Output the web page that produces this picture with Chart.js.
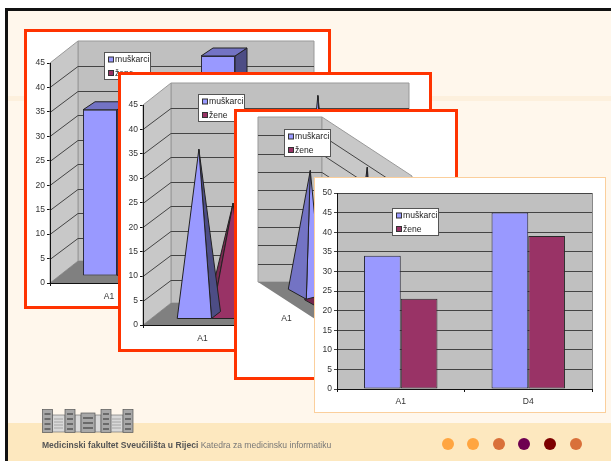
<!DOCTYPE html>
<html>
<head>
<meta charset="utf-8">
<script src="https://cdn.jsdelivr.net/npm/chart.js@4"></script>
<style>
  html, body { margin: 0; padding: 0; background: #fff; }
  body { width: 611px; height: 461px; overflow: hidden; position: relative; font-family: "Liberation Sans", Arial, sans-serif; }
  #slide { position: absolute; left: 5px; top: 8px; width: 606px; height: 453px; background: #fff7ec; border-left: 3px solid #111; border-top: 3px solid #111; box-sizing: border-box; }
  #stripe { position: absolute; left: 0; top: 85px; width: 100%; height: 5px; background: #fdf0dd; }
  #band { position: absolute; left: 0; top: 412px; width: 100%; height: 38px; background: #fde8bf; }
  .box { position: absolute; background: #fff; box-sizing: border-box; }
  .red { border: 3px solid #ff3300; }
  .box canvas { display: block; filter: blur(0.35px); }
  #logo { position: absolute; left: 42px; top: 409px; filter: blur(0.4px); }
  #foot { position: absolute; left: 42px; top: 440px; font-size: 8.55px; color: #777; white-space: nowrap; filter: blur(0.25px); }
  #foot b { color: #555; }
  .dot { position: absolute; top: 438px; width: 12px; height: 12px; border-radius: 50%; }
</style>
</head>
<body>
<div id="slide"><div id="stripe"></div><div id="band"></div></div>

<div class="box red" style="left:24px;top:29px;width:307px;height:280px"><canvas id="c1" width="301" height="274"></canvas></div>
<div class="box red" style="left:118px;top:72px;width:314px;height:280px"><canvas id="c2" width="308" height="274"></canvas></div>
<div class="box red" style="left:234px;top:109px;width:224px;height:271px"><canvas id="c3" width="218" height="265"></canvas></div>
<div class="box" style="left:314px;top:177px;width:292px;height:236px;border:1px solid #fbcf9c"><canvas id="c4" width="290" height="234"></canvas></div>

<svg id="logo" width="94" height="25" viewBox="0 0 94 25">
  <g fill="#d8d8d8" stroke="#777" stroke-width="0.7">
    <rect x="10" y="6" width="13" height="17"/><rect x="33" y="6" width="6" height="17"/>
    <rect x="53" y="6" width="6" height="17"/><rect x="68" y="6" width="13" height="17"/>
  </g>
  <g fill="#a8a8a8" stroke="#555" stroke-width="0.7">
    <rect x="0.5" y="0.5" width="10" height="23"/><rect x="23" y="0.5" width="10" height="23"/>
    <rect x="39" y="4" width="14" height="19.5"/><rect x="59" y="0.5" width="10" height="23"/>
    <rect x="81" y="0.5" width="10" height="23"/>
  </g>
  <g stroke="#555" stroke-width="1.4">
    <path d="M2.5 5h6M2.5 10h6M2.5 15h6M2.5 20h6M25 5h6M25 10h6M25 15h6M25 20h6M61 5h6M61 10h6M61 15h6M61 20h6M83 5h6M83 10h6M83 15h6M83 20h6M41 9h10M41 14h10M41 19h10"/>
  </g>
  <g stroke="#999" stroke-width="0.8">
    <path d="M12 10h9M12 13h9M12 16h9M12 19h9M70 10h9M70 13h9M70 16h9M70 19h9"/>
  </g>
</svg>
<div id="foot"><b>Medicinski fakultet Sveučilišta u Rijeci</b> Katedra za medicinsku informatiku</div>
<div class="dot" style="left:442px;background:#ffa540"></div>
<div class="dot" style="left:467px;background:#ffa540"></div>
<div class="dot" style="left:493px;background:#d9703a"></div>
<div class="dot" style="left:518px;background:#6e0050"></div>
<div class="dot" style="left:544px;background:#7d0000"></div>
<div class="dot" style="left:570px;background:#d9703a"></div>

<script>
// values
const categories = ['A1', 'D4'];
const seriesNames = ['muškarci', 'žene'];
const muskarci = [34, 45];
const zene = [23, 39];
const ticks3d = [0, 5, 10, 15, 20, 25, 30, 35, 40, 45];
const ticksFlat = [0, 5, 10, 15, 20, 25, 30, 35, 40, 45, 50];

const FONT = '"Liberation Sans", Arial, sans-serif';
const BLUE = '#9999ff', PURPLE = '#993366';

function makeData(fill) {
    return {
        labels: categories,
        datasets: [
            { label: seriesNames[0], data: muskarci, backgroundColor: fill ? BLUE : 'transparent', swatch: BLUE,
              borderColor: fill ? '#2a2a3a' : 'transparent', borderWidth: 1, borderSkipped: false,
              side: '#4d4d85', topFace: '#7373c4', categoryPercentage: 0.576, barPercentage: 1 },
            { label: seriesNames[1], data: zene, backgroundColor: fill ? PURPLE : 'transparent', swatch: PURPLE,
              borderColor: fill ? '#2a2a2a' : 'transparent', borderWidth: 1, borderSkipped: false,
              side: '#7a2a52', topFace: '#73264d', categoryPercentage: 0.576, barPercentage: 1 }
        ]
    };
}

// legend box, drawn over the plot
function legendBox(x, y) {
    return {
        id: 'legendBox',
        afterDatasetsDraw(chart) {
            const c = chart.ctx;
            c.save();
            c.fillStyle = '#fff';
            c.strokeStyle = '#555';
            c.lineWidth = 1;
            c.fillRect(x + 0.5, y + 0.5, 46, 27);
            c.strokeRect(x + 0.5, y + 0.5, 46, 27);
            c.font = '8.6px ' + FONT;
            c.textBaseline = 'middle';
            chart.data.datasets.forEach((ds, i) => {
                const rowY = y + 7.5 + i * 13.5;
                c.fillStyle = ds.swatch;
                c.fillRect(x + 4.5, rowY - 2.5, 5, 5);
                c.strokeStyle = '#333';
                c.strokeRect(x + 4.5, rowY - 2.5, 5, 5);
                c.fillStyle = '#222';
                c.fillText(ds.label, x + 11, rowY + 0.5);
            });
            c.restore();
        }
    };
}

function poly(c, pts, fill, stroke) {
    c.beginPath();
    pts.forEach((p, i) => i ? c.lineTo(p[0], p[1]) : c.moveTo(p[0], p[1]));
    c.closePath();
    if (fill) { c.fillStyle = fill; c.fill(); }
    if (stroke) { c.strokeStyle = stroke; c.lineWidth = 1; c.stroke(); }
}

// side wall, back wall, floor and grid of the oblique 3D charts
function walls(dx, dy) {
    return {
        id: 'walls',
        beforeDatasetsDraw(chart) {
            const c = chart.ctx, a = chart.chartArea, y = chart.scales.y;
            const L = a.left, R = a.right, T = a.top, B = a.bottom;
            c.save();
            poly(c, [[L + dx, T + dy], [R + dx, T + dy], [R + dx, B + dy], [L + dx, B + dy]], '#c0c0c0', '#999');
            poly(c, [[L, B], [L, T], [L + dx, T + dy], [L + dx, B + dy]], '#c8c8c8', '#999');
            poly(c, [[L, B], [R, B], [R + dx, B + dy], [L + dx, B + dy]], '#808080');
            c.strokeStyle = '#444';
            c.lineWidth = 1;
            ticks3d.slice(1, -1).forEach(v => {
                const p = Math.round(y.getPixelForValue(v)) + 0.5;
                c.beginPath();
                c.moveTo(L, p);
                c.lineTo(L + dx, Math.round(p + dy) + 0.5);
                c.lineTo(R + dx, Math.round(p + dy) + 0.5);
                c.stroke();
            });
            c.restore();
        }
    };
}

// chart 1: box bars pushed back from the front edge, with top and side faces
function boxBars(sx, sy, ddx, ddy) {
    return {
        id: 'boxBars',
        beforeDatasetDraw(chart, args) {
            const c = chart.ctx, ds = chart.data.datasets[args.index];
            c.save();
            c.translate(sx, sy);
            args.meta.data.forEach(el => {
                const l = el.x - el.width / 2, r = el.x + el.width / 2;
                poly(c, [[r, el.y], [r + ddx, el.y + ddy], [r + ddx, el.base + ddy], [r, el.base]], ds.side, '#222');
                poly(c, [[l, el.y], [r, el.y], [r + ddx, el.y + ddy], [l + ddx, el.y + ddy]], ds.topFace, '#222');
            });
        },
        afterDatasetDraw(chart) { chart.ctx.restore(); }
    };
}

// chart 2: pyramids standing on the bars' positions
function pyramids(sx, sy, ddx, ddy) {
    return {
        id: 'pyramids',
        afterDatasetDraw(chart, args) {
            const c = chart.ctx, ds = chart.data.datasets[args.index];
            c.save();
            args.meta.data.forEach(el => {
                const l = el.x - el.width / 2 + sx, r = el.x + el.width / 2 + sx, b = el.base + sy;
                const apex = [(l + r) / 2 + ddx / 2, el.y + sy + ddy / 2];
                if (args.index === 0) poly(c, [apex, [r, b], [r + ddx, b + ddy]], ds.side, '#222');
                else poly(c, [apex, [l, b], [l - ddx / 2, b + ddy]], ds.side, '#222');
                poly(c, [apex, [l, b], [r, b]], args.index === 0 ? BLUE : PURPLE, '#222');
            });
            c.restore();
        }
    };
}

// chart 3: view turned sideways, x axis runs down along the floor
const SHEAR = 0.65;
function turnedView(wallW, depthDx, depthDy) {
    return {
        id: 'turnedView',
        beforeDatasetsDraw(chart) {
            const c = chart.ctx, a = chart.chartArea, y = chart.scales.y;
            const L = a.left, T = a.top, B = a.bottom, W = a.right - a.left;
            const cx = L + wallW;
            c.save();
            poly(c, [[L, B], [L, T], [cx, T], [cx, B]], '#c0c0c0', '#999');
            poly(c, [[cx, T], [cx + depthDx, T + depthDy], [cx + depthDx, B + depthDy], [cx, B]], '#c8c8c8', '#999');
            poly(c, [[L, B], [cx, B], [cx + depthDx, B + depthDy], [L + W + depthDx, B + W * SHEAR], [L + W, B + W * SHEAR]], '#808080');
            c.strokeStyle = '#444';
            c.lineWidth = 1;
            ticks3d.slice(1, -1).forEach(v => {
                const p = Math.round(y.getPixelForValue(v)) + 0.5;
                c.beginPath();
                c.moveTo(L, p);
                c.lineTo(cx, p);
                c.lineTo(cx + depthDx, p + depthDy);
                c.stroke();
            });
            c.restore();
        },
        afterDatasetDraw(chart, args) {
            const c = chart.ctx, a = chart.chartArea;
            c.save();
            args.meta.data.forEach(el => {
                const bx = el.x + 27, by = a.bottom + (el.x - a.left) * SHEAR;
                const h = el.base - el.y;
                const apex = [bx + 5, by - h];
                poly(c, [apex, [bx + 1, by + 4], [bx + 17, by]], args.index === 0 ? BLUE : PURPLE, '#222');
                poly(c, [apex, [bx - 17, by - 6], [bx + 1, by + 4]], args.index === 0 ? '#7373c4' : '#73264d', '#222');
            });
            c.restore();
        }
    };
}

// fixes the plot rectangle inside a canvas, given page coordinates
function frame(origin, size, plot) {
    const ox = origin[0], oy = origin[1];
    return {
        padding: { left: 0, top: plot.t - oy, right: size[0] - (plot.r - ox), bottom: 0 },
        yWidth: plot.l - ox,
        xHeight: size[1] - (plot.b - oy)
    };
}

function makeChart(id, fill, origin, size, plot, opts) {
    const f = frame(origin, size, plot);
    const yTicks = opts.yTicks;
    return new Chart(document.getElementById(id), {
        type: 'bar',
        data: makeData(fill),
        plugins: opts.plugins,
        options: {
            responsive: false,
            animation: false,
            layout: { padding: f.padding },
            plugins: { legend: { display: false }, title: { display: false }, tooltip: { enabled: false } },
            scales: {
                x: {
                    afterFit: s => { s.height = f.xHeight; },
                    border: { display: opts.showY, color: '#111', z: 2 },
                    grid: { display: opts.showY, drawOnChartArea: false, tickLength: 3, color: '#111' },
                    ticks: { color: '#333', font: { family: FONT, size: 8.5 }, padding: opts.xPad, maxRotation: 0 }
                },
                y: {
                    display: opts.showY,
                    min: 0,
                    max: yTicks[yTicks.length - 1],
                    afterFit: s => { s.width = f.yWidth; },
                    afterBuildTicks: s => { s.ticks = yTicks.map(v => ({ value: v })); },
                    border: { color: '#111', z: 2 },
                    grid: opts.flat
                        ? { color: '#444', tickLength: 3, lineWidth: 1 }
                        : { drawOnChartArea: false, tickLength: 3, color: '#111' },
                    ticks: { color: '#333', font: { family: FONT, size: 8.5 }, padding: 2 }
                }
            }
        }
    });
}

// flat chart: grey plot background
const plotBack = {
    id: 'plotBack',
    beforeDraw(chart) {
        const c = chart.ctx, a = chart.chartArea;
        c.save();
        c.fillStyle = '#c0c0c0';
        c.fillRect(a.left, a.top, a.right - a.left, a.bottom - a.top);
        c.strokeStyle = '#888';
        c.strokeRect(a.left + 0.5, a.top + 0.5, a.right - a.left, a.bottom - a.top);
        c.restore();
    }
};

makeChart('c1', true, [27, 32], [301, 274], { l: 50, t: 63, r: 286, b: 283 }, {
    showY: true, yTicks: ticks3d, xPad: 6,
    plugins: [walls(28, -22), boxBars(8, -7, 12, -8), legendBox(104 - 27, 52 - 32)]
});
makeChart('c2', false, [121, 75], [308, 274], { l: 143, t: 105, r: 381, b: 325 }, {
    showY: true, yTicks: ticks3d, xPad: 6,
    plugins: [walls(28, -22), pyramids(9, -6, 9, -7), legendBox(198 - 121, 94 - 75)]
});
makeChart('c3', false, [237, 112], [218, 265], { l: 258, t: 117, r: 372, b: 282 }, {
    showY: false, yTicks: ticks3d, xPad: 29,
    plugins: [turnedView(64, 90, 59), legendBox(284 - 237, 129 - 112)]
});
makeChart('c4', true, [315, 178], [290, 234], { l: 337, t: 193, r: 592, b: 389 }, {
    showY: true, flat: true, yTicks: ticksFlat, xPad: 5,
    plugins: [plotBack, legendBox(392 - 315, 208 - 178)]
});
</script>
</body>
</html>
